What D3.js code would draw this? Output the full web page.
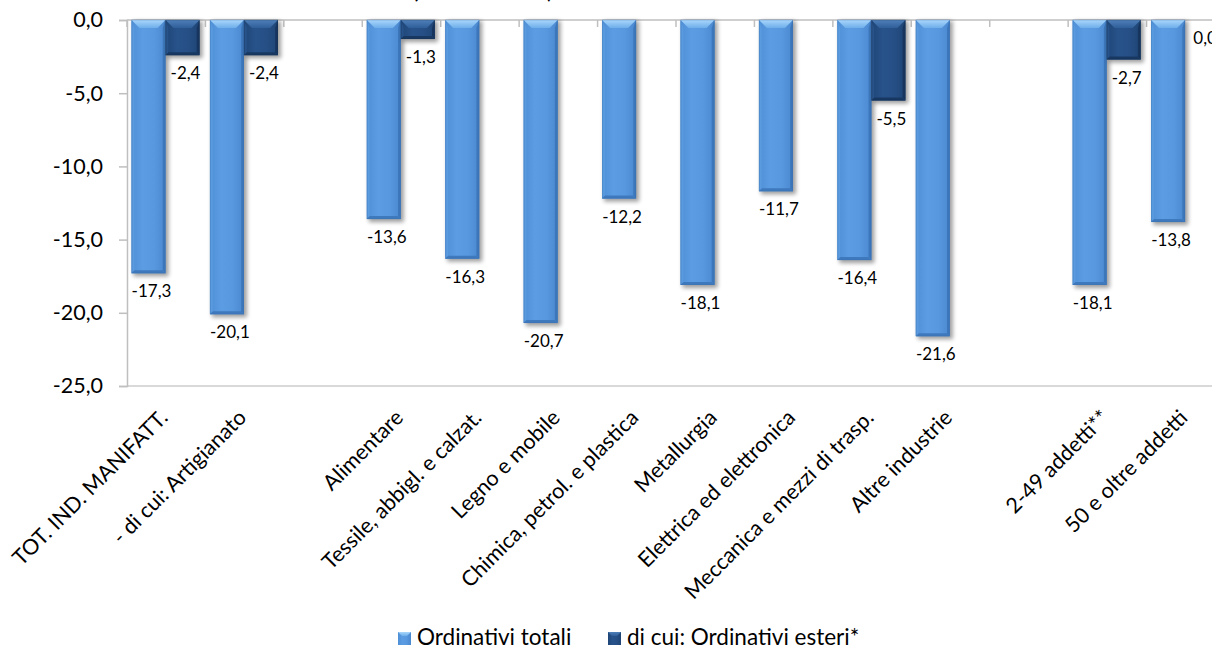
<!DOCTYPE html>
<html>
<head>
<meta charset="utf-8">
<script src="https://cdn.jsdelivr.net/npm/d3@7"></script>
<style>
  html, body { margin: 0; padding: 0; background: #fff; }
  svg { display: block; font-family: Lato, "Open Sans", sans-serif; }
</style>
</head>
<body>
<svg id="chart" width="1212" height="650"></svg>
<script>
// Categories (empty strings are spacer slots between groups)
const categories = [
  "TOT. IND. MANIFATT.", "- di cui: Artigianato", "",
  "Alimentare", "Tessile, abbigl. e calzat.", "Legno e mobile",
  "Chimica, petrol. e plastica", "Metallurgia", "Elettrica ed elettronica",
  "Meccanica e mezzi di trasp.", "Altre industrie", "",
  "2-49 addetti**", "50 e oltre addetti"
];
const ordinativiTotali = [-17.3, -20.1, null, -13.6, -16.3, -20.7, -12.2, -18.1, -11.7, -16.4, -21.6, null, -18.1, -13.8];
const ordinativiEsteri = [-2.4, -2.4, null, -1.3, null, null, null, null, null, -5.5, null, null, -2.7, 0.0];
const seriesNames = ["Ordinativi totali", "di cui: Ordinativi esteri*"];
const yTicks = [0, -5, -10, -15, -20, -25];
const titleText = "(variazioni %)";

const svg = d3.select("#chart");
const W = 1212, H = 650;
const plot = { left: 127, right: 1225, top: 20, bottom: 386 };

const itLocale = d3.formatLocale({ decimal: ",", thousands: ".", grouping: [3], currency: ["", "€"], minus: "-" });
const fmt = itLocale.format(".1f");

const x = d3.scaleBand()
  .domain(d3.range(categories.length))
  .range([plot.left, plot.right])
  .paddingInner(0).paddingOuter(0);

const bw = x.bandwidth();
const xSub = d3.scaleBand().domain([0, 1]).range([4.5, bw - 5.9]).padding(0);

const y = d3.scaleLinear().domain([-25, 0]).range([plot.bottom, plot.top]);

// Palettes for the bevelled bars
const palettes = [
  { face: ["#4f8fd6", "#5c9ce2", "#5898df", "#4a88cf"], top: ["#a9d6fb", "#6eaeea"], left: "#5a9ade", right: "#3d77bb", bottom: "#3f79bd", edge: "#3a70ae" },
  { face: ["#1f4677", "#27528a", "#264f86", "#1f4574"], top: ["#4f7fb8", "#2f5e98"], left: "#28538a", right: "#17355e", bottom: "#183862", edge: "#163357" }
];

const defs = svg.append("defs");
const blur = defs.append("filter").attr("id", "shadow").attr("x", "-30%").attr("y", "-10%").attr("width", "160%").attr("height", "130%");
blur.append("feGaussianBlur").attr("stdDeviation", 2.2);

palettes.forEach((p, i) => {
  const gf = defs.append("linearGradient").attr("id", "face" + i).attr("x1", "0").attr("x2", "1").attr("y1", "0").attr("y2", "0");
  p.face.forEach((c, k) => gf.append("stop").attr("offset", k / (p.face.length - 1)).attr("stop-color", c));
  const gt = defs.append("linearGradient").attr("id", "top" + i).attr("x1", "0").attr("x2", "0").attr("y1", "0").attr("y2", "1");
  gt.append("stop").attr("offset", 0).attr("stop-color", p.top[0]);
  gt.append("stop").attr("offset", 1).attr("stop-color", p.top[1]);
});

// Title line, sitting above the top edge so only its lowest strokes show
svg.append("text")
  .attr("x", 413).attr("y", -2)
  .attr("font-size", 26).attr("font-style", "italic")
  .attr("fill", "#000")
  .text(titleText);

// Draws one bevelled bar between value 0 and value v
function bevelBar(g, x0, w, v, si) {
  const p = palettes[si];
  const y0 = y(0), y1 = y(v);
  const h = y1 - y0;
  if (!(h > 0)) return;
  const b = Math.min(8, h / 2, w / 2);
  const bb = Math.min(3, h / 3);
  g.append("rect")
    .attr("x", x0 + 2).attr("y", y0 + 1).attr("width", w + 1).attr("height", h + 2)
    .attr("fill", "#000").attr("opacity", 0.38).attr("filter", "url(#shadow)");
  g.append("rect")
    .attr("x", x0).attr("y", y0).attr("width", w).attr("height", h)
    .attr("fill", `url(#face${si})`);
  const path = pts => "M" + pts.map(d => d.join(",")).join("L") + "Z";
  // left and right side bevels
  g.append("path").attr("d", path([[x0, y0], [x0 + b * 0.35, y0 + b], [x0 + b * 0.35, y1 - bb], [x0, y1]])).attr("fill", p.left);
  g.append("path").attr("d", path([[x0 + w, y0], [x0 + w - b * 0.35, y0 + b], [x0 + w - b * 0.35, y1 - bb], [x0 + w, y1]])).attr("fill", p.right);
  // top bevel
  g.append("path").attr("d", path([[x0, y0], [x0 + w, y0], [x0 + w - b, y0 + b], [x0 + b, y0 + b]])).attr("fill", `url(#top${si})`);
  // bottom bevel
  g.append("path").attr("d", path([[x0, y1], [x0 + w, y1], [x0 + w - bb, y1 - bb], [x0 + bb, y1 - bb]])).attr("fill", p.bottom);
  g.append("rect")
    .attr("x", x0 + 0.5).attr("y", y0).attr("width", w - 1).attr("height", h - 0.5)
    .attr("fill", "none").attr("stroke", p.edge).attr("stroke-opacity", 0.35).attr("stroke-width", 1);
}

// Axes lines
const axisColor = "#bfbfbf";
svg.append("line")
  .attr("x1", plot.left).attr("x2", W + 20)
  .attr("y1", y(-25)).attr("y2", y(-25))
  .attr("stroke", "#d9d9d9").attr("stroke-width", 2);

const yAxis = d3.axisLeft(y).tickValues(yTicks).tickFormat(fmt).tickSize(8).tickPadding(16);
const yG = svg.append("g").attr("transform", `translate(${plot.left},0)`).call(yAxis);
yG.select(".domain").attr("stroke", axisColor).attr("stroke-width", 1.5);
yG.selectAll(".tick line").attr("stroke", axisColor).attr("stroke-width", 1.5);
yG.selectAll(".tick text").attr("font-size", 21.5).attr("fill", "#000").attr("font-family", "Lato, sans-serif");

// Category axis along the zero line, with separator ticks
const zeroG = svg.append("g");
zeroG.append("line")
  .attr("x1", plot.left).attr("x2", plot.right)
  .attr("y1", y(0)).attr("y2", y(0))
  .attr("stroke", axisColor).attr("stroke-width", 1.5);
zeroG.selectAll("line.sep")
  .data(d3.range(categories.length + 1))
  .join("line").attr("class", "sep")
  .attr("x1", i => i < categories.length ? x(i) : x(i - 1) + bw)
  .attr("x2", i => i < categories.length ? x(i) : x(i - 1) + bw)
  .attr("y1", y(0)).attr("y2", y(0) + 7)
  .attr("stroke", axisColor).attr("stroke-width", 1.5);

// Bars
const barsG = svg.append("g");
[ordinativiTotali, ordinativiEsteri].forEach((vals, si) => {
  vals.forEach((v, i) => {
    if (v === null) return;
    bevelBar(barsG, x(i) + xSub(si), xSub.bandwidth(), v, si);
  });
});

// Value labels below each bar end
const labelsG = svg.append("g").attr("font-size", 17).attr("fill", "#000").attr("text-anchor", "middle");
[ordinativiTotali, ordinativiEsteri].forEach((vals, si) => {
  vals.forEach((v, i) => {
    if (v === null) return;
    const cx = x(i) + xSub(si) + xSub.bandwidth() / 2 + 3;
    labelsG.append("text")
      .attr("x", cx).attr("y", y(v) + 24)
      .text(fmt(v));
  });
});

// Rotated category labels under the plot
svg.append("g").selectAll("text")
  .data(categories.map((c, i) => ({ c, i })).filter(d => d.c !== ""))
  .join("text")
  .attr("transform", d => `translate(${x(d.i) + bw / 2 + 3},${plot.bottom + 33}) rotate(-45)`)
  .attr("text-anchor", "end")
  .attr("font-size", 21.5)
  .attr("fill", "#000")
  .text(d => d.c);

// Legend
const legendItems = [{ name: seriesNames[0], x: 398 }, { name: seriesNames[1], x: 608 }];
const legG = svg.append("g");
legendItems.forEach((d, si) => {
  const s = 13, lx = d.x, ly = 632;
  legG.append("rect").attr("x", lx).attr("y", ly).attr("width", s).attr("height", s).attr("fill", `url(#face${si})`);
  legG.append("path").attr("d", `M${lx},${ly}L${lx + s},${ly}L${lx + s - 4},${ly + 4}L${lx + 4},${ly + 4}Z`).attr("fill", `url(#top${si})`);
  legG.append("text").attr("x", lx + 19).attr("y", ly + 13).attr("font-size", 22.5).attr("fill", "#000").text(d.name);
});
</script>
</body>
</html>
